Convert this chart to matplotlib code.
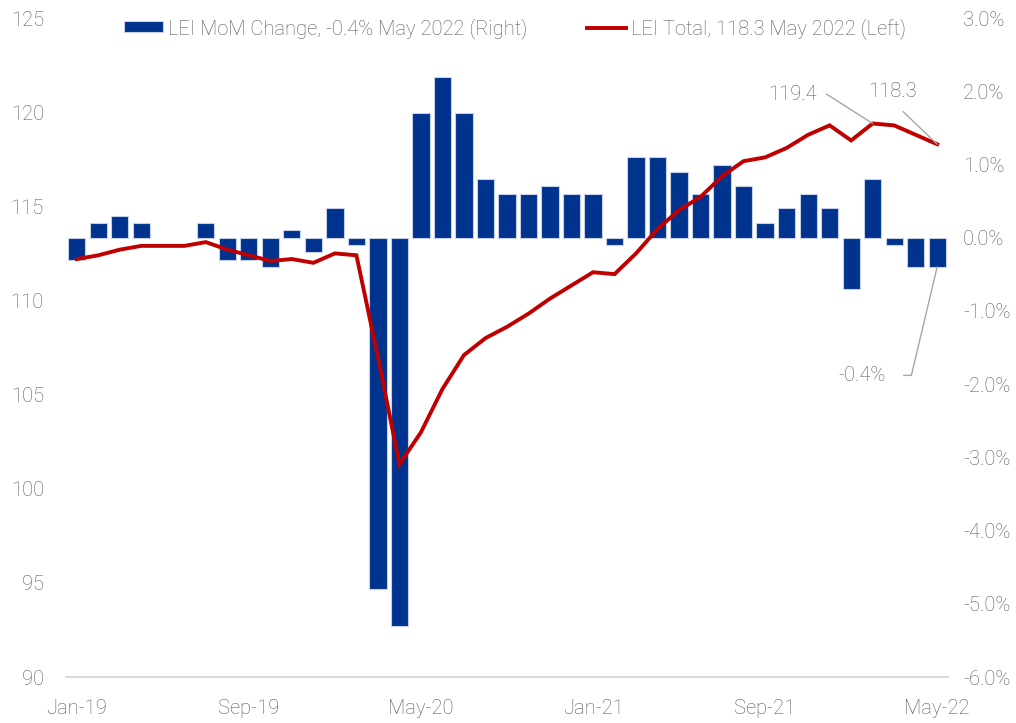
import matplotlib
matplotlib.use("Agg")
import matplotlib.pyplot as plt
import numpy as np
import pandas as pd

# month labels Jan-19 .. May-22
months = list(pd.date_range("2019-01-01", periods=41, freq="MS").strftime("%b-%y"))

# LEI month-on-month change, % (right axis)
mom_change = [-0.3, 0.2, 0.3, 0.2, 0.0, 0.0, 0.2, -0.3, -0.3, -0.4, 0.1, -0.2, 0.4, -0.1,
              -4.8, -5.3, 1.7, 2.2, 1.7, 0.8, 0.6, 0.6, 0.7, 0.6, 0.6, -0.1, 1.1, 1.1,
              0.9, 0.6, 1.0, 0.7, 0.2, 0.4, 0.6, 0.4, -0.7, 0.8, -0.1, -0.4, -0.4]

# LEI total index level (left axis)
lei_total = [112.2, 112.4, 112.7, 112.9, 112.9, 112.9, 113.1, 112.7, 112.4, 112.1, 112.2,
             112.0, 112.5, 112.4, 107.0, 101.3, 103.0, 105.3, 107.1, 108.0, 108.6, 109.3,
             110.1, 110.8, 111.5, 111.4, 112.5, 113.8, 114.8, 115.5, 116.6, 117.4, 117.6,
             118.1, 118.8, 119.3, 118.5, 119.4, 119.3, 118.8, 118.3]

left_ticks = [90, 95, 100, 105, 110, 115, 120, 125]
right_ticks = [-6, -5, -4, -3, -2, -1, 0, 1, 2, 3]
xtick_labels = ["Jan-19", "Sep-19", "May-20", "Jan-21", "Sep-21", "May-22"]

plt.rcParams["font.family"] = ["Roboto", "DejaVu Sans"]
plt.rcParams["font.weight"] = "light"

grey = "#595959"
blue = "#00338D"
red = "#C00000"
fs = 14.5

fig = plt.figure(figsize=(10.16, 7.23), dpi=100)
ax = fig.add_axes([0.065, 0.0636, 0.868, 0.9114])
ax2 = ax.twinx()

x = np.arange(len(months))
# no outline on the flat (0.0%) months, otherwise they show up as a thin line
edges = ["none" if v == 0 else "#C5D0E6" for v in mom_change]
bars = ax2.bar(x, mom_change, width=0.8, color=blue, edgecolor=edges, linewidth=0.8,
               label="LEI MoM Change, -0.4% May 2022 (Right)")
line, = ax.plot(x, lei_total, color=red, linewidth=2.8, solid_joinstyle="miter",
                label="LEI Total, 118.3 May 2022 (Left)")

ax.set_zorder(ax2.get_zorder() + 1)
ax.patch.set_visible(False)

ax.set_xlim(-0.5, len(months) - 0.5)
ax.set_ylim(90, 125)
ax2.set_ylim(-6, 3)

ax.set_yticks(left_ticks)
ax.set_yticklabels([str(t) for t in left_ticks])
ax2.set_yticks(right_ticks)
ax2.set_yticklabels([f"{t:.1f}%" for t in right_ticks])
ax.set_xticks([months.index(m) for m in xtick_labels])
ax.set_xticklabels(xtick_labels)

ax.tick_params(axis="y", length=0, pad=16, labelsize=fs, labelcolor=grey)
ax.tick_params(axis="x", length=0, pad=16, labelsize=fs, labelcolor=grey)
ax2.tick_params(axis="y", length=0, pad=11, labelsize=fs, labelcolor=grey)

for a in (ax, ax2):
    for s in ("top", "left", "right", "bottom"):
        a.spines[s].set_visible(False)
ax.spines["bottom"].set_visible(True)
ax.spines["bottom"].set_color("#D9D9D9")
ax.spines["bottom"].set_linewidth(1.5)

# data labels with leader lines
lead = dict(arrowstyle="-", color="#A6A6A6", linewidth=1.0, shrinkB=0)
ax.annotate(f"{lei_total[37]:.1f}", xy=(37, lei_total[37]), xytext=(34.4, 120.95),
            ha="right", va="center", fontsize=fs, color=grey,
            arrowprops=dict(lead, relpos=(1, 0.5), shrinkA=5,
                            connectionstyle="angle,angleA=0,angleB=-32.5,rad=0"))
ax.annotate(f"{lei_total[40]:.1f}", xy=(40, lei_total[40]), xytext=(37.9, 121.1),
            ha="center", va="center", fontsize=fs, color=grey,
            arrowprops=dict(lead, relpos=(0.5, 0), shrinkA=8))
ax2.annotate(f"{mom_change[40]:.1f}%", xy=(40, mom_change[40]), xytext=(37.6, -1.88),
             ha="right", va="center", fontsize=fs, color=grey,
             arrowprops=dict(lead, relpos=(1, 0.5), shrinkA=11,
                             connectionstyle="angle,angleA=0,angleB=76.6,rad=0"))

fig.legend([bars, line], [bars.get_label(), line.get_label()], loc="center",
           bbox_to_anchor=(0.507, 0.961), ncol=2, frameon=False, fontsize=fs,
           labelcolor=grey, handlelength=1.9, handleheight=0.45, handletextpad=0.25,
           columnspacing=3.0)

fig.savefig("out.png", dpi=100)
